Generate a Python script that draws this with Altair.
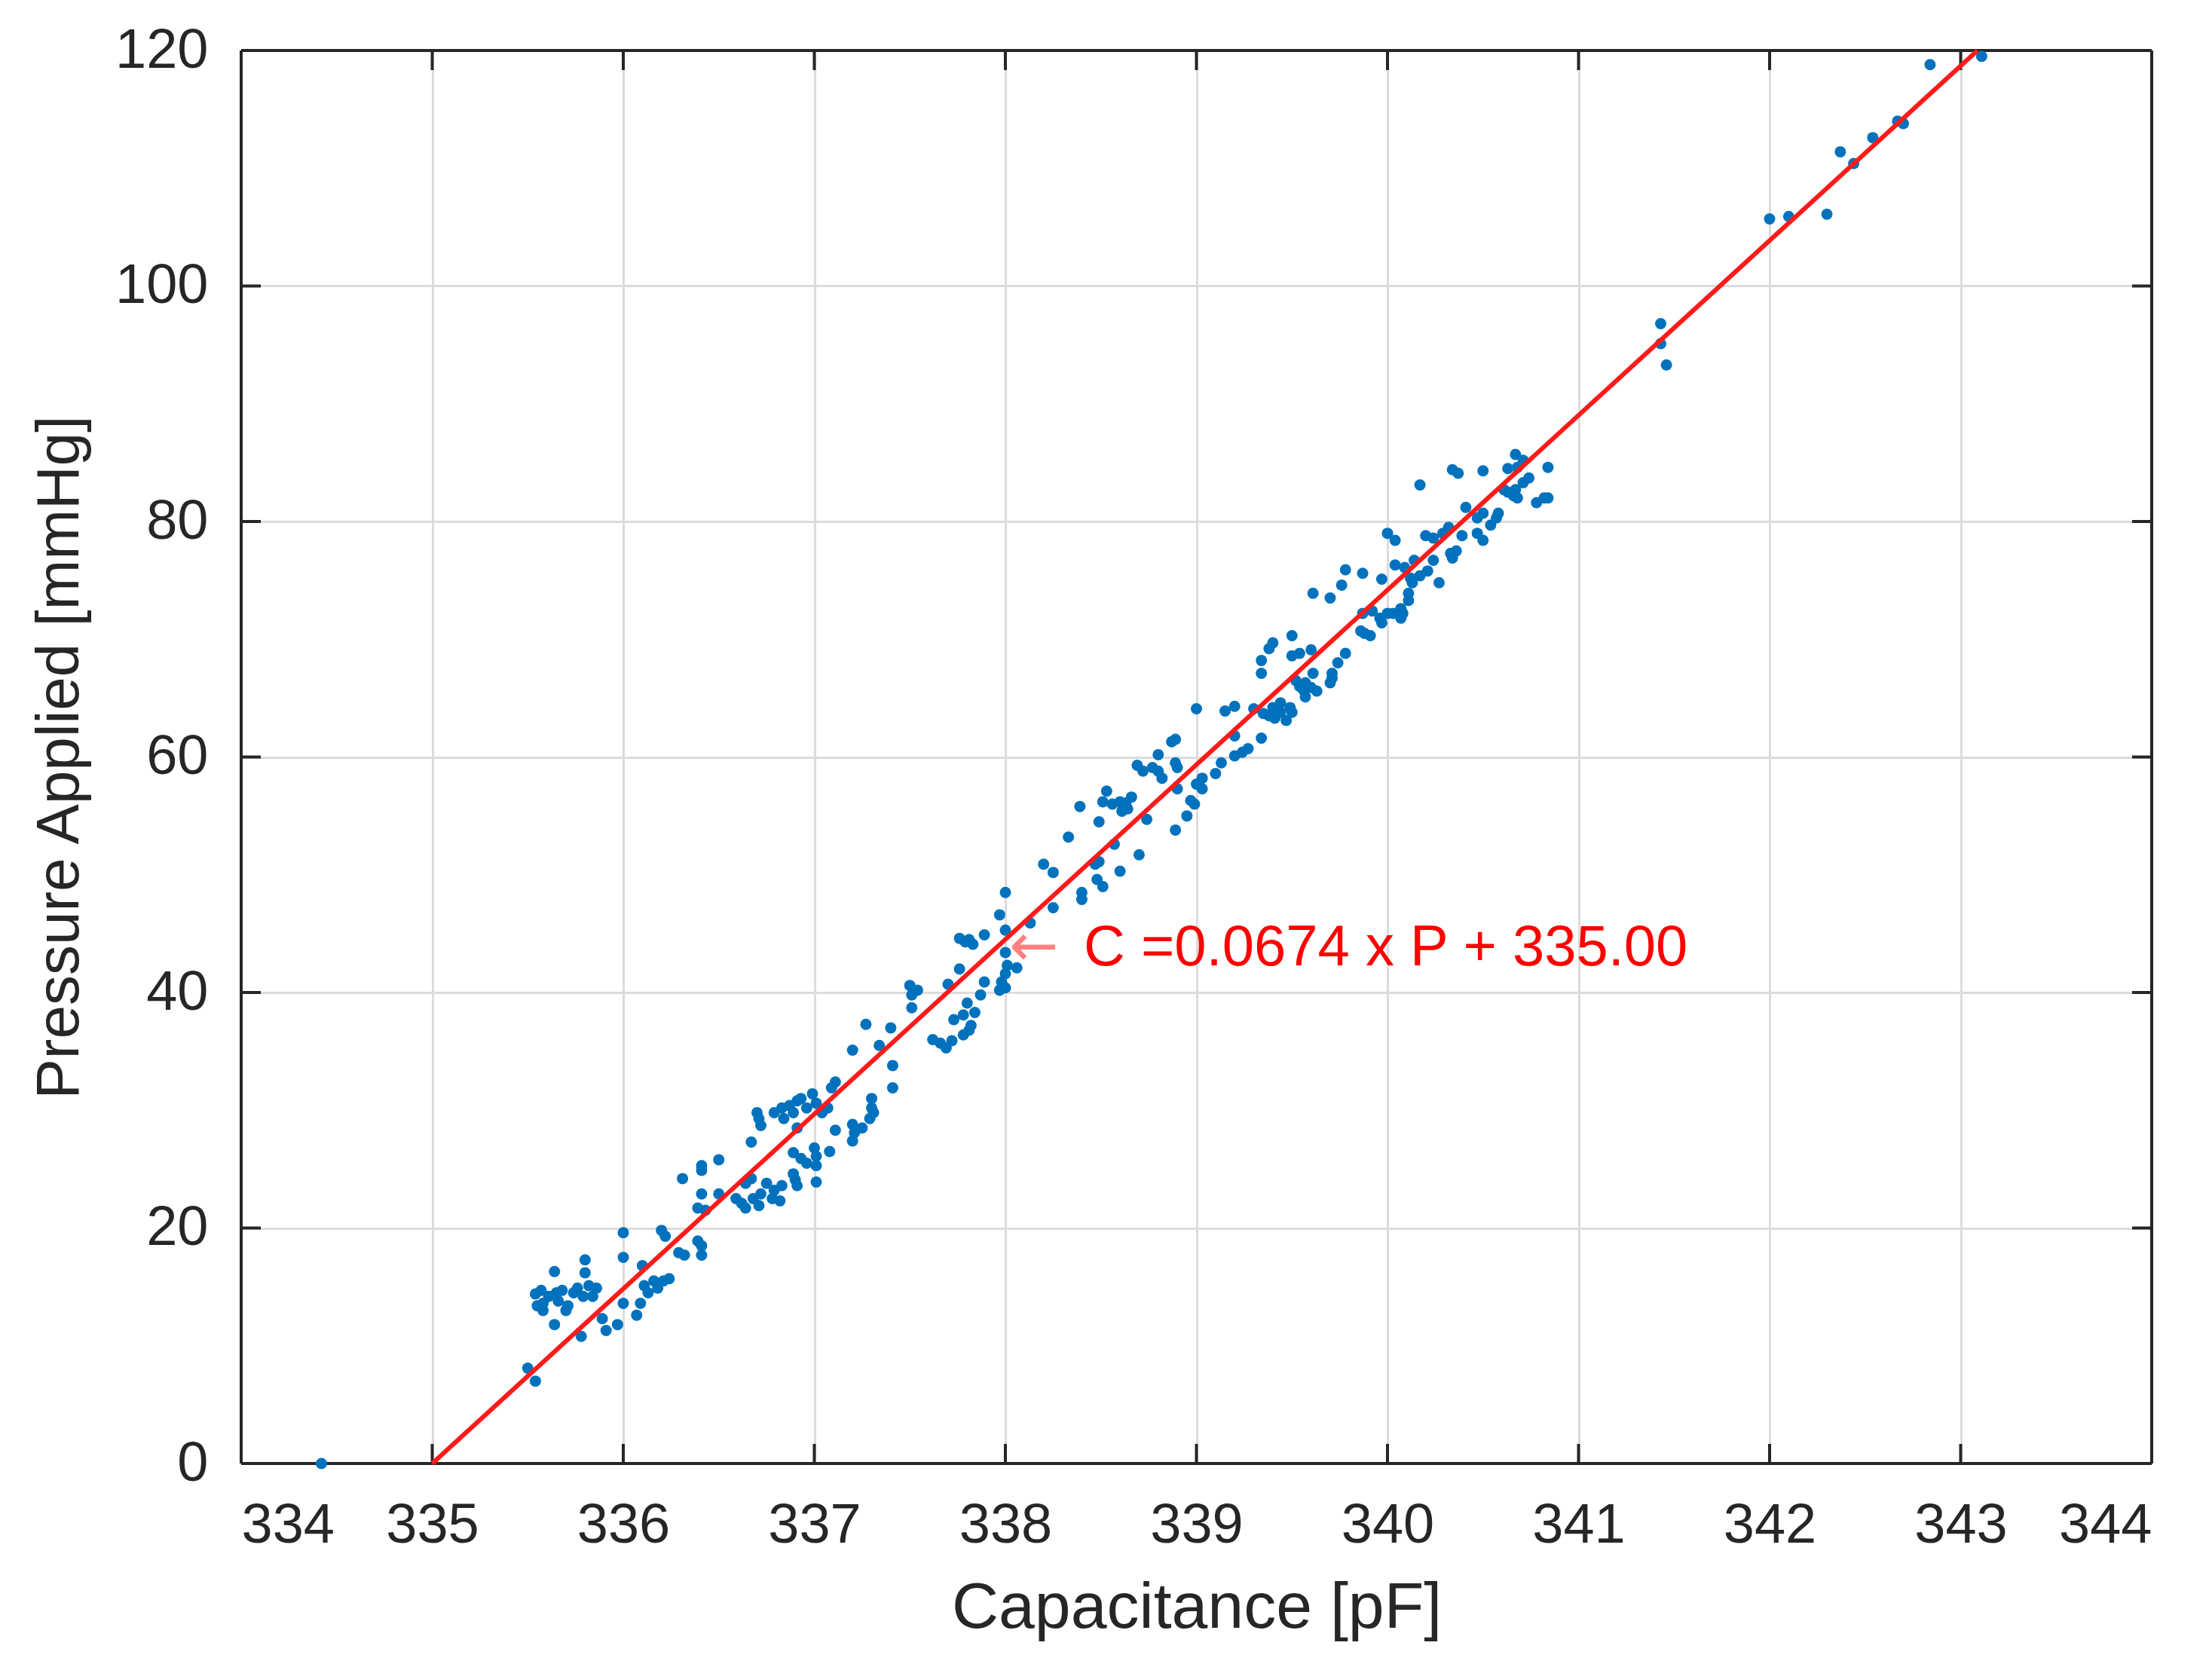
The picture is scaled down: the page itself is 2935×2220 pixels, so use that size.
import altair as alt
import pandas as pd

# ---- data ----
cap = [
    334.42,
    335.50, 335.54, 335.78, 335.64, 335.64, 335.80, 335.80,
    335.54, 335.57, 335.58, 335.61, 335.66, 335.68, 335.71, 335.74, 335.76, 335.79, 335.82, 335.84, 335.86,
    335.58, 335.55, 335.70, 335.65,
    335.91, 335.89, 335.97, 336.00, 336.00, 336.00, 336.07, 336.09, 336.10, 336.11, 336.13, 336.16, 336.18,
    336.21, 336.24, 336.20, 336.22, 336.29, 336.32, 336.39, 336.41, 336.41, 336.31, 336.41, 336.41, 336.50,
    336.41, 336.39, 336.43, 336.50,
    336.75, 336.79, 336.82, 336.83, 336.78, 336.72, 336.68, 336.64, 336.62, 336.67, 336.59, 336.71, 336.64,
    336.89, 336.91, 336.90, 336.89, 336.93, 336.96, 337.00, 337.01, 337.01, 337.01,
    337.08, 337.11, 336.91, 336.67, 336.70, 336.72, 336.71,
    336.79, 336.83, 336.87, 336.91, 336.93, 336.96, 336.99, 337.01, 337.04, 337.07, 337.09, 337.11, 336.89, 336.84,
    337.20, 337.21, 337.20, 337.25, 337.29, 337.30, 337.30, 337.31,
    337.20, 337.27, 337.34, 337.40, 337.41, 337.41,
    337.50, 337.51, 337.51, 337.54, 337.62, 337.66, 337.69, 337.72,
    337.70, 337.76, 337.73, 337.78, 337.80, 337.84, 337.81, 337.78, 337.82,
    337.87, 337.89, 337.97, 338.00, 337.98, 338.00, 338.01, 338.06, 338.00,
    337.76, 337.79, 337.83, 337.81, 337.89, 338.00, 337.97, 338.00,
    338.13, 338.25, 338.20, 338.25, 338.33, 338.39,
    338.40, 338.40, 338.47, 338.49, 338.51, 338.48, 338.57, 338.60, 338.70,
    338.49, 338.53, 338.51, 338.56, 338.60, 338.64, 338.66, 338.61, 338.63, 338.74,
    338.89, 338.95, 338.97, 338.99, 339.03, 339.03, 339.00, 338.90, 338.89, 338.90, 338.80, 338.80, 338.82,
    338.77, 338.69, 338.72, 338.89, 338.87, 339.00, 339.10, 339.13, 339.20, 339.24, 339.27, 339.15, 339.20,
    339.20, 339.30, 339.34, 339.34, 339.34, 339.38, 339.40, 339.50, 339.50, 339.54, 339.60,
    339.35, 339.38, 339.40, 339.41, 339.44, 339.47, 339.49, 339.50, 339.44,
    339.52, 339.56, 339.57, 339.61, 339.60, 339.54, 339.57, 339.63,
    339.71, 339.71, 339.70, 339.74, 339.78,
    339.61, 339.70, 339.76, 339.78, 339.87,
    339.86, 339.91, 339.88, 339.87, 339.92, 339.96, 339.97, 340.00, 340.03, 340.07, 340.08, 340.07,
    339.97, 340.04, 340.00, 340.04,
    340.09, 340.12, 340.11, 340.13, 340.11, 340.14, 340.17, 340.21, 340.24, 340.27,
    340.20, 340.24, 340.17, 340.29, 340.32, 340.33, 340.36, 340.34, 340.39, 340.41, 340.47, 340.50, 340.47,
    340.50, 340.54, 340.57, 340.58,
    340.34, 340.37, 340.50,
    340.61, 340.63, 340.66, 340.67, 340.63, 340.67, 340.71, 340.68, 340.71, 340.74, 340.68, 340.78, 340.82,
    340.84, 340.84,
    341.43, 341.43, 341.46, 342.00, 342.10, 342.30, 342.37, 342.44, 342.54, 342.67, 342.70, 342.84, 343.11,
]
pres = [
    0.0,
    8.1, 7.0, 10.8, 16.3, 11.8, 17.3, 16.2,
    14.4, 14.7, 13.6, 14.2, 13.8, 14.7, 13.4, 14.5, 14.9, 14.2, 15.1, 14.2, 14.9,
    13.0, 13.4, 13.0, 14.5,
    11.3, 12.3, 11.8, 13.6, 19.6, 17.5, 12.6, 13.6, 16.8, 15.1, 14.5, 15.5, 14.9,
    15.5, 15.7, 19.8, 19.3, 17.9, 17.7, 18.9, 17.7, 18.5, 24.2, 25.3, 24.9, 25.8,
    22.9, 21.7, 21.5, 22.9,
    23.8, 23.2, 22.3, 23.6, 22.5, 22.9, 22.5, 23.8, 22.1, 24.2, 22.5, 21.9, 21.7,
    24.6, 23.6, 24.1, 26.4, 25.9, 25.5, 26.8, 26.1, 25.3, 23.9,
    26.5, 28.3, 28.5, 27.3, 29.8, 28.7, 29.3,
    29.8, 30.2, 30.4, 30.8, 31.0, 30.2, 31.4, 30.6, 29.8, 30.2, 31.9, 32.4, 29.8, 29.3,
    28.8, 28.1, 27.4, 28.5, 29.3, 30.2, 31.0, 29.8,
    35.1, 37.3, 35.5, 37.0, 33.8, 31.9,
    40.6, 39.8, 38.7, 40.2, 36.0, 35.7, 35.3, 35.9,
    40.7, 42.0, 37.7, 38.1, 39.1, 38.3, 36.8, 36.4, 37.2,
    39.8, 40.9, 40.2, 40.4, 40.9, 41.6, 42.3, 42.1, 43.4,
    44.6, 44.3, 44.1, 44.5, 44.9, 45.3, 46.6, 48.5,
    45.9, 47.2, 50.9, 50.2, 53.2, 55.8,
    48.5, 47.9, 50.9, 51.1, 49.0, 49.6, 52.6, 50.3, 51.7,
    54.5, 57.1, 56.2, 56.0, 56.2, 55.6, 56.6, 55.4, 56.1, 54.7,
    53.8, 55.0, 56.3, 56.0, 57.3, 58.2, 57.7, 57.3, 59.5, 59.1, 60.2, 58.8, 58.2,
    59.1, 59.3, 58.8, 61.5, 61.3, 64.1, 58.6, 59.5, 60.1, 60.4, 60.7, 63.9, 64.3,
    61.8, 64.1, 61.6, 67.1, 68.2, 69.2, 69.7, 70.3, 68.6, 68.8, 69.1,
    63.7, 63.5, 64.2, 63.3, 64.6, 63.1, 64.2, 63.8, 63.8,
    66.5, 65.7, 66.3, 67.1, 65.9, 66.0, 65.1, 65.6,
    66.7, 67.1, 66.3, 68.0, 68.8,
    73.9, 73.5, 74.6, 75.9, 75.6,
    70.7, 70.3, 70.5, 72.2, 72.4, 71.8, 71.4, 72.2, 72.2, 71.8, 72.2, 72.6,
    75.1, 76.3, 79.0, 78.4,
    76.1, 75.2, 73.9, 74.8, 73.3, 76.7, 75.4, 75.8, 76.7, 74.8,
    78.8, 78.6, 83.1, 79.0, 79.5, 77.3, 77.5, 76.9, 78.8, 81.2, 79.0, 78.4, 80.3,
    80.7, 79.7, 80.3, 80.7,
    84.4, 84.1, 84.3,
    82.7, 82.5, 82.2, 82.7, 84.5, 85.7, 85.2, 84.6, 83.3, 83.7, 82.0, 81.6, 82.0,
    82.0, 84.6,
    96.8, 95.1, 93.3, 105.7, 105.9, 106.1, 111.4, 110.4, 112.6, 114.0, 113.8, 118.8, 119.5,
]

fit_cap = [335.0, 343.088]
fit_pres = [0.0, 120.0]

x_ticks = [334, 335, 336, 337, 338, 339, 340, 341, 342, 343, 344]
y_ticks = [0, 20, 40, 60, 80, 100, 120]

ann_arrow = ["\u2190"]
ann_arrow_x = [338.02]
ann_text = ["C =0.0674 x P + 335.00"]
ann_text_x = [338.41]
ann_y = [43.8]

# ---- chart ----
W, H = 2535, 1875
TICK = 26
INK = "#262626"
FONT = "Liberation Sans"

xs = alt.Scale(domain=[334, 344], nice=False, zero=False)
ys = alt.Scale(domain=[0, 120], nice=False, zero=True)
x_axis = alt.Axis(values=x_ticks, format="d", grid=True)
y_axis = alt.Axis(values=y_ticks, format="d", grid=True)
XT = "Capacitance [pF]"
YT = "Pressure Applied [mmHg]"


def X(field):
    return alt.X(f"{field}:Q", scale=xs, axis=x_axis, title=XT)


def Y(field):
    return alt.Y(f"{field}:Q", scale=ys, axis=y_axis, title=YT)


pts_df = pd.DataFrame({"cap": cap, "pres": pres})
fit_df = pd.DataFrame({"cap": fit_cap, "pres": fit_pres})
xt_df = pd.DataFrame({"cap": x_ticks})
yt_df = pd.DataFrame({"pres": y_ticks})
one = pd.DataFrame({"k": [0]})
arrow_df = pd.DataFrame({"cap": ann_arrow_x, "pres": ann_y, "t": ann_arrow})
text_df = pd.DataFrame({"cap": ann_text_x, "pres": ann_y, "t": ann_text})

box_style = dict(color=INK, strokeWidth=4)

box_l = alt.Chart(one).mark_rule(**box_style).encode(x=alt.value(0), y=alt.value(0), y2=alt.value(H))
box_r = alt.Chart(one).mark_rule(**box_style).encode(x=alt.value(W), y=alt.value(0), y2=alt.value(H))
box_t = alt.Chart(one).mark_rule(**box_style).encode(y=alt.value(0), x=alt.value(0), x2=alt.value(W))
box_b = alt.Chart(one).mark_rule(**box_style).encode(y=alt.value(H), x=alt.value(0), x2=alt.value(W))

tick_b = alt.Chart(xt_df).mark_rule(**box_style).encode(x=X("cap"), y=alt.value(H), y2=alt.value(H - TICK))
tick_t = alt.Chart(xt_df).mark_rule(**box_style).encode(x=X("cap"), y=alt.value(0), y2=alt.value(TICK))
tick_l = alt.Chart(yt_df).mark_rule(**box_style).encode(y=Y("pres"), x=alt.value(0), x2=alt.value(TICK))
tick_r = alt.Chart(yt_df).mark_rule(**box_style).encode(y=Y("pres"), x=alt.value(W), x2=alt.value(W - TICK))

points = alt.Chart(pts_df).mark_circle(size=225, color="#0072BD", opacity=1).encode(x=X("cap"), y=Y("pres"))
fit = alt.Chart(fit_df).mark_line(color="#ff1a1a", strokeWidth=6).encode(x=X("cap"), y=Y("pres"))

arrow = alt.Chart(arrow_df).mark_text(
    font="DejaVu Sans", fontSize=78, color="#ff8080", align="left", baseline="middle"
).encode(x=X("cap"), y=Y("pres"), text="t:N")
label = alt.Chart(text_df).mark_text(
    font=FONT, fontSize=76, color="#ff0000", align="left", baseline="middle"
).encode(x=X("cap"), y=Y("pres"), text="t:N")

chart = alt.layer(
    box_l, box_r, box_t, box_b, tick_b, tick_t, tick_l, tick_r, points, fit, arrow, label
).properties(
    width=W,
    height=H,
    padding={"left": 312, "top": 59, "right": 60, "bottom": 250},
    autosize=alt.AutoSizeParams(type="none"),
    background="white",
).configure_view(
    stroke=None
).configure_axis(
    domain=False,
    ticks=False,
    grid=True,
    gridColor="#dcdcdc",
    gridWidth=3,
    labelFont=FONT,
    labelFontSize=74,
    labelColor=INK,
    titleFont=FONT,
    titleFontSize=86,
    titleFontWeight="normal",
    titleColor=INK,
).configure_axisX(
    labelPadding=46,
    titlePadding=30,
).configure_axisY(
    labelPadding=44,
    titlePadding=32,
    titleFontSize=80,
)

chart.save("out.html", embed_options={"renderer": "svg", "actions": False})
